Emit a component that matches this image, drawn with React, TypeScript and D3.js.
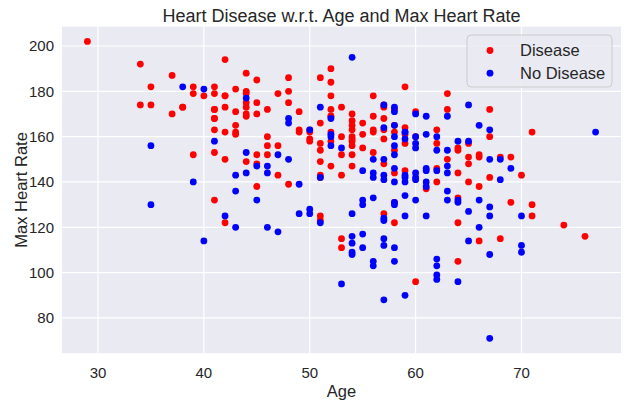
import { useEffect, useRef } from 'react';
import * as d3 from 'd3';

// patients with heart disease
const diseaseAge = [
  63, 37, 41, 56, 57, 57, 56, 44, 52, 57, 54, 48, 49, 64, 58, 50, 58, 66, 43, 69,
  59, 44, 42, 61, 40, 71, 59, 51, 65, 53, 41, 65, 44, 54, 51, 46, 54, 54, 65, 65,
  51, 48, 45, 53, 39, 52, 44, 47, 53, 53, 51, 66, 62, 44, 63, 52, 48, 45, 34, 57,
  71, 54, 52, 41, 58, 35, 51, 45, 44, 62, 54, 51, 29, 51, 43, 55, 51, 59, 52, 58,
  41, 45, 60, 52, 42, 67, 68, 46, 54, 58, 48, 57, 52, 54, 45, 53, 62, 52, 43, 53,
  42, 59, 63, 42, 50, 68, 69, 45, 50, 50, 64, 57, 64, 43, 55, 37, 41, 56, 46, 46,
  64, 59, 41, 54, 39, 34, 47, 67, 52, 74, 54, 49, 42, 41, 41, 49, 60, 62, 57, 64,
  51, 43, 42, 67, 76, 70, 44, 60, 44, 42, 66, 71, 64, 66, 39, 58, 47, 35, 58, 56,
  56, 55, 41, 38, 38,
];
const diseaseRate = [
  150, 187, 172, 178, 163, 148, 153, 173, 162, 174, 160, 139, 171, 144, 162, 158, 172, 114, 171, 151,
  161, 179, 178, 137, 178, 162, 157, 123, 157, 152, 168, 140, 188, 152, 125, 160, 170, 165, 148, 151,
  142, 180, 148, 143, 182, 172, 180, 156, 115, 160, 149, 151, 146, 175, 172, 158, 186, 185, 174, 159,
  130, 156, 190, 132, 165, 182, 143, 175, 170, 163, 147, 154, 202, 186, 165, 161, 166, 164, 184, 154,
  179, 170, 160, 178, 122, 160, 151, 156, 158, 122, 175, 168, 169, 159, 138, 111, 157, 147, 162, 173,
  178, 145, 179, 194, 163, 115, 131, 152, 162, 159, 154, 173, 133, 161, 155, 170, 168, 162, 172, 152,
  122, 182, 172, 167, 179, 192, 143, 172, 169, 121, 163, 162, 162, 153, 163, 163, 96, 140, 126, 105,
  157, 181, 173, 142, 116, 143, 149, 171, 169, 150, 138, 125, 155, 152, 152, 131, 179, 174, 144, 163,
  169, 166, 182, 173, 173,
];

// patients without heart disease
const healthyAge = [
  67, 67, 62, 63, 53, 56, 48, 58, 58, 60, 40, 60, 64, 43, 57, 55, 65, 61, 58, 50,
  44, 60, 54, 50, 41, 51, 58, 54, 60, 60, 59, 46, 67, 62, 65, 44, 60, 58, 68, 62,
  52, 59, 60, 49, 59, 57, 61, 39, 61, 56, 43, 62, 63, 65, 48, 63, 55, 65, 56, 54,
  70, 62, 35, 59, 64, 47, 57, 55, 64, 70, 51, 58, 60, 77, 35, 70, 59, 64, 57, 56,
  48, 56, 66, 54, 69, 51, 43, 62, 67, 59, 45, 58, 50, 62, 38, 66, 52, 53, 63, 54,
  66, 55, 49, 54, 56, 46, 61, 67, 58, 47, 52, 58, 57, 58, 61, 42, 52, 59, 40, 61,
  46, 59, 57, 57, 55, 61, 58, 58, 67, 44, 63, 63, 59, 57, 45, 68, 57, 57,
];
const healthyRate = [
  108, 129, 160, 147, 155, 142, 168, 160, 173, 132, 114, 160, 158, 120, 112, 132, 114, 169, 165, 128,
  153, 144, 109, 163, 158, 142, 131, 113, 142, 155, 140, 147, 163, 99, 158, 177, 141, 111, 150, 145,
  161, 142, 157, 139, 162, 150, 140, 140, 146, 144, 136, 97, 132, 127, 150, 154, 111, 174, 133, 126,
  125, 103, 130, 159, 131, 152, 124, 145, 96, 109, 173, 171, 170, 162, 156, 112, 143, 132, 88, 105,
  166, 150, 120, 195, 146, 122, 143, 106, 125, 125, 147, 130, 126, 154, 182, 165, 160, 95, 169, 108,
  132, 117, 126, 116, 103, 144, 145, 71, 156, 118, 168, 105, 141, 152, 125, 125, 156, 134, 181, 138,
  120, 162, 164, 143, 130, 161, 140, 146, 150, 144, 144, 136, 90, 123, 132, 141, 115, 174,
];

const xTicks = [30, 40, 50, 60, 70];
const yTicks = [80, 100, 120, 140, 160, 180, 200];

const WIDTH = 627;
const HEIGHT = 404;
const FONT = '"Liberation Sans", Arial, sans-serif';
const INK = '#262626';

export default function App() {
  const svgRef = useRef<SVGSVGElement>(null);

  useEffect(() => {
    if (!svgRef.current) return;
    d3.select(svgRef.current).selectAll('*').remove();

    const margin = { top: 26.6, right: 6, bottom: 50.8, left: 62 };
    const innerWidth = WIDTH - margin.left - margin.right;
    const innerHeight = HEIGHT - margin.top - margin.bottom;

    const svg = d3.select(svgRef.current)
      .attr('width', WIDTH)
      .attr('height', HEIGHT)
      .style('font-family', FONT);

    svg.append('rect').attr('width', WIDTH).attr('height', HEIGHT).attr('fill', '#ffffff');

    const g = svg.append('g')
      .attr('transform', `translate(${margin.left},${margin.top})`);

    // matplotlib-style 5% padding around the data range
    const allAge = [...diseaseAge, ...healthyAge];
    const allRate = [...diseaseRate, ...healthyRate];
    const [ax0, ax1] = d3.extent(allAge) as [number, number];
    const [ry0, ry1] = d3.extent(allRate) as [number, number];
    const padX = (ax1 - ax0) * 0.05;
    const padY = (ry1 - ry0) * 0.05;

    const xScale = d3.scaleLinear().domain([ax0 - padX, ax1 + padX]).range([0, innerWidth]);
    const yScale = d3.scaleLinear().domain([ry0 - padY, ry1 + padY]).range([innerHeight, 0]);

    g.append('rect')
      .attr('width', innerWidth)
      .attr('height', innerHeight)
      .attr('fill', '#eaeaf2');

    // Grid
    g.append('g')
      .selectAll('line')
      .data(xTicks)
      .enter()
      .append('line')
      .attr('x1', d => xScale(d))
      .attr('x2', d => xScale(d))
      .attr('y1', 0)
      .attr('y2', innerHeight)
      .attr('stroke', '#ffffff')
      .attr('stroke-width', 1.2);

    g.append('g')
      .selectAll('line')
      .data(yTicks)
      .enter()
      .append('line')
      .attr('x1', 0)
      .attr('x2', innerWidth)
      .attr('y1', d => yScale(d))
      .attr('y2', d => yScale(d))
      .attr('stroke', '#ffffff')
      .attr('stroke-width', 1.2);

    // Tick labels
    g.append('g')
      .selectAll('text')
      .data(xTicks)
      .enter()
      .append('text')
      .attr('x', d => xScale(d))
      .attr('y', innerHeight + 24.5)
      .attr('text-anchor', 'middle')
      .attr('fill', INK)
      .style('font-size', '15px')
      .text(d => d);

    g.append('g')
      .selectAll('text')
      .data(yTicks)
      .enter()
      .append('text')
      .attr('x', -8)
      .attr('y', d => yScale(d) + 5.3)
      .attr('text-anchor', 'end')
      .attr('fill', INK)
      .style('font-size', '15px')
      .text(d => d);

    // Points
    const diseasePts = diseaseAge.map((a, i) => ({ age: a, rate: diseaseRate[i] }));
    const healthyPts = healthyAge.map((a, i) => ({ age: a, rate: healthyRate[i] }));

    g.append('g')
      .selectAll('circle')
      .data(diseasePts)
      .enter()
      .append('circle')
      .attr('cx', d => xScale(d.age))
      .attr('cy', d => yScale(d.rate))
      .attr('r', 3.4)
      .attr('fill', '#ff0000');

    g.append('g')
      .selectAll('circle')
      .data(healthyPts)
      .enter()
      .append('circle')
      .attr('cx', d => xScale(d.age))
      .attr('cy', d => yScale(d.rate))
      .attr('r', 3.4)
      .attr('fill', '#0000ff');

    // Titles
    svg.append('text')
      .attr('x', margin.left + innerWidth / 2)
      .attr('y', 22)
      .attr('text-anchor', 'middle')
      .attr('fill', INK)
      .style('font-size', '18px')
      .text('Heart Disease w.r.t. Age and Max Heart Rate');

    svg.append('text')
      .attr('x', margin.left + innerWidth / 2)
      .attr('y', 397)
      .attr('text-anchor', 'middle')
      .attr('fill', INK)
      .style('font-size', '16.5px')
      .text('Age');

    svg.append('text')
      .attr('transform', `translate(27,${margin.top + innerHeight / 2}) rotate(-90)`)
      .attr('text-anchor', 'middle')
      .attr('fill', INK)
      .style('font-size', '16.5px')
      .text('Max Heart Rate');

    // Legend
    const legend = svg.append('g').attr('transform', 'translate(467,35)');
    legend.append('rect')
      .attr('width', 145)
      .attr('height', 52)
      .attr('rx', 4)
      .attr('fill', '#eaeaf2')
      .attr('fill-opacity', 0.8)
      .attr('stroke', '#cccccc')
      .attr('stroke-width', 1);

    const legendData = [
      { label: 'Disease', color: '#ff0000' },
      { label: 'No Disease', color: '#0000ff' },
    ];
    legendData.forEach((item, i) => {
      const row = legend.append('g').attr('transform', `translate(0,${15.5 + i * 22.7})`);
      row.append('circle').attr('cx', 23).attr('cy', 0).attr('r', 3.4).attr('fill', item.color);
      row.append('text')
        .attr('x', 53)
        .attr('y', 5.8)
        .attr('fill', INK)
        .style('font-size', '16.5px')
        .text(item.label);
    });
  }, []);

  return (
    <svg ref={svgRef} style={{ position: 'absolute', left: 0, top: 0, display: 'block' }} />
  );
}
